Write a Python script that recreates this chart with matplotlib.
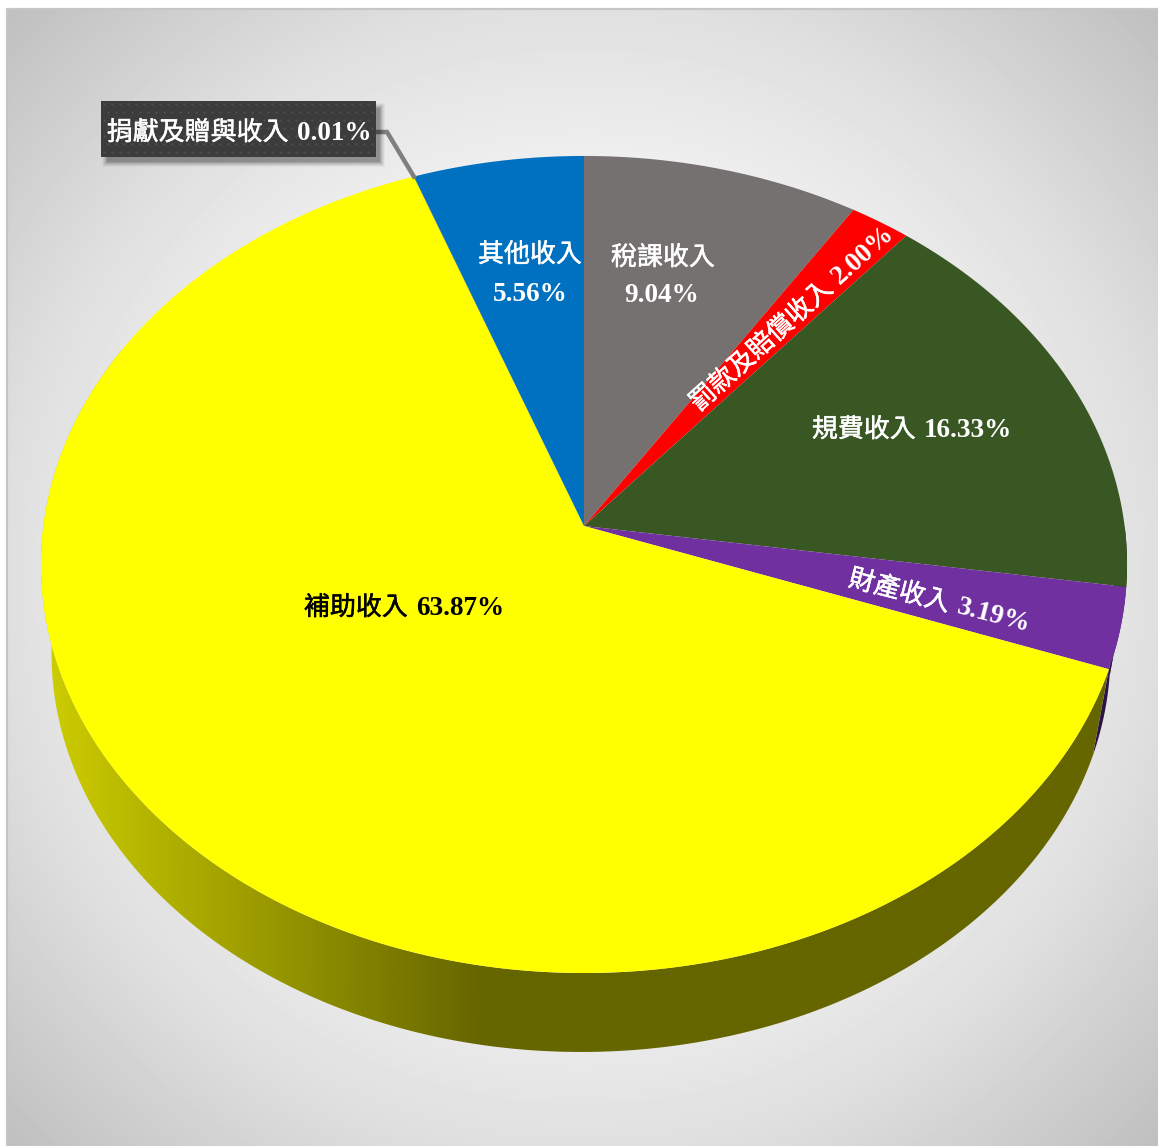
"""Perspective pie of revenue shares, drawn from the shares with a homography."""

import matplotlib

matplotlib.use("Agg")

import matplotlib.patheffects as pe
import matplotlib.pyplot as plt
import numpy as np
from matplotlib.colors import LinearSegmentedColormap
from matplotlib.patches import Polygon, Rectangle

# clockwise from 12 o'clock
categories = ["稅課收入", "罰款及賠償收入", "規費收入", "財產收入", "補助收入", "捐獻及贈與收入", "其他收入"]
shares = [9.04, 2.00, 16.33, 3.19, 63.87, 0.01, 5.56]
top_colors = ["#767171", "#ff0000", "#385723", "#7030a0", "#ffff00", "#3b3b3b", "#0070c0"]
side_colors = ["#3b3838", "#800000", "#1c2c12", "#2d1346", None, "#1e1e1e", "#003860"]

W, H = 1158, 1146
APEX_X, APEX_Y = 584.0, 526.0
K, D, E = 0.0942, 404.9, 540.6
VANISH_Y, SHRINK = 4132.0, 0.975

CJK = "Noto Sans CJK TC"
NUM = "Liberation Serif"
FS = 18.7
FS_NUM = 19.6


def rim(theta):
    """Project the points of the pie's top circle into the image."""
    den = 1.0 + K * np.cos(theta)
    return APEX_X + E * np.sin(theta) / den, APEX_Y - D * np.cos(theta) / den


def lower_rim(theta):
    x, y = rim(theta)
    return APEX_X - 3 + SHRINK * (x - APEX_X), VANISH_Y + SHRINK * (y - VANISH_Y)


def label(ax, cx, cy, cjk, num, color="white", rot=0.0):
    """Put a CJK part and a bold Latin part side by side, centred on cx, cy."""
    kw = dict(color=color, va="baseline", ha="left", rotation=rot, rotation_mode="anchor", zorder=8)
    parts = []
    if cjk:
        parts.append(ax.text(0, 0, cjk, family=CJK, weight="regular", fontsize=FS, **kw))
        parts[-1].set_path_effects([pe.withStroke(linewidth=0.35, foreground=color)])
    if num:
        parts.append(ax.text(0, 0, num, family=NUM, weight="bold", fontsize=FS_NUM, **kw))
    renderer = ax.figure.canvas.get_renderer()
    widths = []
    for t in parts:
        t.set_rotation(0)
        widths.append(t.get_window_extent(renderer).width)
        t.set_rotation(rot)
    gap = 8.0 if len(parts) == 2 else 0.0
    total = sum(widths) + gap
    r = np.deg2rad(rot)
    ux, uy = np.cos(r), -np.sin(r)
    # baseline sits about 9 px under the middle of the line
    x0 = cx - ux * total / 2 + np.sin(r) * 9
    y0 = cy - uy * total / 2 + np.cos(r) * 9
    s = 0.0
    for t, w in zip(parts, widths):
        t.set_position((x0 + ux * s, y0 + uy * s))
        s += w + gap


fig = plt.figure(figsize=(W / 100, H / 100), dpi=100, facecolor="white")
ax = fig.add_axes([0, 0, 1, 1])

# chart area with radial grey fill
xx, yy = np.meshgrid(np.arange(7, W) + 0.5, np.arange(9, H) + 0.5)
rr = np.hypot(xx - 582, yy - 577)
grey = np.interp(rr, [0, 400, 570, 810], [250, 240, 224, 191]) / 255
ax.imshow(grey, extent=(7, W, H, 9), cmap="gray", vmin=0, vmax=1, interpolation="bilinear", zorder=0)
ax.plot([6.5, 6.5, W], [H, 8.5, 8.5], color="#c6c6c6", lw=1.6, zorder=1, solid_capstyle="butt")

edges = np.cumsum([0.0] + shares) / 100 * 2 * np.pi

# side wall, only what faces the viewer
wall_cmap = LinearSegmentedColormap.from_list("wall", ["#cccc00", "#666600"])
for i, (a, b) in enumerate(zip(edges[:-1], edges[1:])):
    lo, hi = max(a, np.pi / 2), min(b, 1.65 * np.pi)
    if hi <= lo:
        continue
    th = np.linspace(lo, hi, 240)
    xt, yt = rim(th)
    xb, yb = lower_rim(th)
    poly = np.column_stack([np.r_[xt, xb[::-1]], np.r_[yt, yb[::-1]]])
    if side_colors[i] is not None:
        ax.add_patch(Polygon(poly, closed=True, fc=side_colors[i], ec="none", zorder=2))
        continue
    patch = Polygon(poly, closed=True, fc="none", ec="none", zorder=2)
    ax.add_patch(patch)
    ramp = np.clip((np.arange(0, W) - 50) / 430.0, 0, 1)[None, :]
    img = ax.imshow(ramp, extent=(0, W, H, 0), cmap=wall_cmap, vmin=0, vmax=1, zorder=2, interpolation="bilinear")
    img.set_clip_path(patch)

# top face
for i, (a, b) in enumerate(zip(edges[:-1], edges[1:])):
    th = np.linspace(a, b, max(int((b - a) * 200), 3))
    xt, yt = rim(th)
    poly = np.column_stack([np.r_[APEX_X, xt], np.r_[APEX_Y, yt]])
    ax.add_patch(Polygon(poly, closed=True, fc=top_colors[i], ec="none", zorder=3))

# callout for the tiny slice
mid = (edges[5] + edges[6]) / 2
tipx, tipy = rim(mid)
ax.plot([376, 387, tipx], [132, 132, tipy], color="#7f7f7f", lw=3.2, zorder=4, solid_joinstyle="miter")
bx, by, bw, bh = 101, 101, 275, 56
for grow, al in [(4, 0.03), (3, 0.05), (2, 0.06), (1, 0.08), (0, 0.1), (-1, 0.12)]:
    ax.add_patch(Rectangle((bx + 5 - grow, by + 6 - grow), bw + 2 * grow, bh + 2 * grow, fc="black", ec="none", alpha=al, zorder=5))
ax.add_patch(Rectangle((bx, by), bw, bh, fc="#3c3c3c", ec="none", zorder=6))
gx, gy = np.meshgrid(np.arange(bx + 3, bx + bw, 8.0), np.arange(by + 3, by + bh, 8.0))
gx[1::2] += 4
keep = gx < bx + bw - 1
ax.scatter(gx[keep], gy[keep], s=3.0, c="#4e4e4e", linewidths=0, zorder=7)

ax.set_xlim(0, W)
ax.set_ylim(H, 0)
ax.set_aspect("auto")
ax.axis("off")
fig.canvas.draw()

pct = [f"{v:.2f}%" for v in shares]
label(ax, 530, 253, categories[6], "")
label(ax, 530, 292, "", pct[6])
label(ax, 663, 256, categories[0], "")
label(ax, 662, 293, "", pct[0])
label(ax, 791, 317, categories[1], pct[1], rot=42.0)
label(ax, 912, 428, categories[2], pct[2])
label(ax, 940, 600, categories[3], pct[3], rot=-14.5)
label(ax, 404, 606, categories[4], pct[4], color="black")
label(ax, 239, 131, categories[5], pct[5])

fig.savefig("out.png", dpi=100)
plt.close(fig)
